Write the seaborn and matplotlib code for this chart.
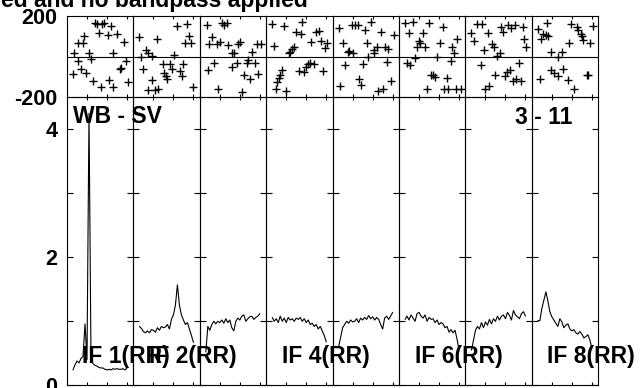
import matplotlib
matplotlib.use("Agg")
import matplotlib.pyplot as plt
import seaborn as sns

# ---------------- data ----------------
channels = list(range(6, 62, 2))  # 28 spectral channels per IF

amp_if1 = [0.24, 0.32, 0.38, 0.35, 0.42, 0.45, 0.96, 0.40, 4.25, 0.42, 0.34, 0.31, 0.30, 0.28,
           0.27, 0.27, 0.25, 0.24, 0.25, 0.24, 0.26, 0.25, 0.26, 0.25, 0.25, 0.26, 0.24, 0.27]
amp_if2 = [0.92, 0.89, 0.84, 0.82, 0.85, 0.82, 0.87, 0.86, 0.83, 0.90, 0.86, 0.92, 0.90, 0.91,
           0.95, 0.88, 1.03, 1.10, 1.25, 1.57, 1.25, 1.10, 1.02, 0.95, 0.98, 0.88, 0.78, 0.67]
amp_if3 = [0.52, 0.92, 0.86, 0.95, 1.00, 0.96, 1.00, 0.98, 1.02, 0.97, 1.04, 0.98, 1.02, 0.90,
           0.85, 1.00, 1.05, 1.02, 1.08, 1.10, 1.00, 1.04, 1.07, 1.08, 1.03, 1.06, 1.08, 1.12]
amp_if4 = [1.06, 1.00, 1.04, 0.98, 1.08, 1.00, 1.05, 0.98, 1.06, 1.02, 1.04, 1.00, 1.05, 1.03,
           1.06, 1.00, 1.04, 0.98, 1.02, 0.95, 0.97, 0.92, 0.95, 0.88, 0.92, 0.85, 0.78, 0.68]
amp_if5 = [0.60, 0.75, 0.90, 0.95, 1.00, 0.97, 1.02, 0.99, 1.00, 1.04, 0.98, 1.05, 1.02, 1.06,
           1.03, 1.09, 1.04, 1.07, 1.02, 1.06, 1.03, 0.95, 0.88, 1.05, 1.08, 1.03, 1.08, 1.14]
amp_if6 = [1.03, 1.08, 1.02, 1.10, 1.05, 1.00, 1.12, 1.14, 1.08, 1.05, 1.10, 1.00, 1.06, 1.03,
           1.04, 0.98, 1.02, 0.95, 0.98, 0.96, 0.90, 0.92, 0.83, 0.87, 0.82, 0.86, 0.72, 0.55]
amp_if7 = [0.55, 0.70, 0.86, 0.92, 0.88, 0.98, 0.90, 0.99, 0.94, 1.03, 0.96, 1.04, 1.00, 1.08,
           1.02, 1.08, 1.10, 1.04, 1.14, 1.09, 1.02, 1.17, 1.10, 1.07, 1.04, 1.12, 1.15, 1.08]
amp_if8 = [1.01, 1.01, 1.20, 1.33, 1.46, 1.32, 1.15, 1.07, 1.02, 0.97, 0.92, 1.04, 0.99, 0.90,
           0.94, 0.96, 0.88, 0.85, 0.87, 0.82, 0.80, 0.84, 0.80, 0.74, 0.76, 0.79, 0.71, 0.58]

phase_chan_if1 = [5.7, 7.0, 11.3, 11.3, 14.0, 16.3, 17.3, 19.3, 22.3, 23.7, 26.3, 28.0, 29.7, 32.3,
                  34.3, 35.3, 37.3, 40.7, 42.3, 43.7, 46.3, 46.3, 50.3, 53.0, 54.0, 57.3, 58.7, 60.7]
phase_if1 = [-86, 19, 65, -20, -61, 65, 100, -79, 16, -12, -118, 162, 158, 114,
             -151, 159, 166, 107, -115, 150, 19, -151, 110, -63, -58, 73, -20, -123]
phase_chan_if2 = [5.9, 7.6, 9.9, 12.6, 14.3, 14.9, 18.3, 18.6, 21.6, 23.9, 24.3, 29.3, 30.6, 32.6,
                  33.3, 36.6, 38.9, 40.6, 43.3, 46.6, 48.6, 49.9, 51.6, 53.3, 55.9, 57.6, 59.9]
phase_if2 = [97, -4, -61, 32, -164, 19, 2, -117, -164, 84, -161, -37, -79, -96,
             -110, -37, -63, 7, 151, -70, -96, -37, 65, 159, 102, 65, -148]
phase_chan_if3 = [6.7, 7.7, 9.0, 12.3, 14.3, 16.7, 17.7, 20.0, 22.3, 24.3, 26.7, 28.3, 31.7, 32.3,
                  34.3, 36.7, 38.3, 40.0, 42.3, 44.3, 46.7, 48.3, 50.0, 52.3, 55.0, 56.7, 58.3, 61.0]
phase_if3 = [154, -66, 60, 97, -30, 60, -161, 73, 166, 154, 166, 56, 16, -50,
             16, -30, 60, 73, -172, -91, -30, -17, -112, 24, -30, 60, -86, 60]
phase_chan_if4 = [5.8, 7.8, 10.2, 11.2, 12.5, 14.2, 15.8, 17.8, 20.2, 22.5, 24.2, 25.8, 27.8, 30.2,
                  32.5, 35.2, 36.2, 37.8, 40.2, 41.8, 43.5, 45.2, 47.8, 50.2, 52.5, 54.5, 56.8, 58.5, 60.8]
phase_if4 = [159, 52, -161, -123, -107, -91, -66, 150, -167, 16, 24, 35, 45, 122,
             -69, 110, 167, -74, -50, -37, -30, 73, -37, 122, 127, 78, -70, 40, 65]
phase_chan_if5 = [6.7, 7.7, 10.0, 12.3, 15.0, 16.7, 19.0, 20.0, 22.3, 25.0, 26.7, 28.3, 30.0, 32.3,
                  34.3, 35.7, 38.3, 41.0, 41.7, 44.3, 45.7, 48.3, 50.0, 52.3, 54.3, 55.7, 58.3, 61.0]
phase_if5 = [138, -145, 68, -42, 24, 25, 154, 19, 154, 154, -112, -140, -37, 130,
             68, -1, 171, 32, 19, 48, -167, 122, -161, 45, -25, 35, -118, 105]
phase_chan_if6 = [5.6, 8.3, 10.0, 11.0, 14.3, 15.6, 18.3, 20.0, 21.0, 24.3, 25.6, 27.6, 30.0, 31.7,
                  34.3, 35.6, 37.6, 41.0, 44.3, 45.0, 48.3, 49.0, 51.6, 53.3, 55.0, 56.6, 58.3, 61.5]
phase_if6 = [166, -30, 117, -42, 171, -9, 48, 78, 65, 114, 48, -158, 166, -91,
             -91, -99, -1, 68, 146, -158, -107, -158, -20, 45, 19, -158, 84, -158]
phase_chan_if7 = [6.0, 8.7, 12.0, 15.3, 16.7, 18.7, 20.0, 22.7, 23.3, 26.7, 28.7, 30.0, 32.0, 34.3,
                  36.0, 37.7, 39.3, 42.0, 42.7, 44.3, 46.0, 47.7, 49.3, 51.0, 53.3, 55.3, 57.7, 58.7, 61.0]
phase_if7 = [117, 78, 159, -42, 159, 32, -158, 117, -146, 61, 45, -91, 2, 19,
             143, 122, -96, -74, 154, -66, 138, -118, 154, -112, -30, -118, 143, 84, 45]
phase_chan_if8 = [5.7, 8.0, 9.0, 11.4, 13.7, 14.7, 15.7, 19.0, 19.0, 22.3, 26.3, 26.3, 29.7, 31.3,
                  35.7, 37.0, 39.0, 42.3, 44.7, 46.3, 49.0, 49.7, 51.3, 54.7, 55.7, 58.0, 61.3]
phase_if8 = [133, -112, 84, 110, 105, 166, 100, -66, 24, -83, -1, -96, 24, -63,
             -115, 68, 159, -158, 146, 130, 110, 100, 81, -91, -91, 68, 150]

amps = [amp_if1, amp_if2, amp_if3, amp_if4, amp_if5, amp_if6, amp_if7, amp_if8]
phase_chans = [phase_chan_if1, phase_chan_if2, phase_chan_if3, phase_chan_if4,
               phase_chan_if5, phase_chan_if6, phase_chan_if7, phase_chan_if8]
phases = [phase_if1, phase_if2, phase_if3, phase_if4, phase_if5, phase_if6, phase_if7, phase_if8]

title_text = "ed and no bandpass applied"
baseline_label = "WB - SV"
time_label = "3 - 11"
labeled_ifs = [1, 2, 4, 6, 8]
phase_tick_values = [-200, 200]
amp_tick_values = [0, 1, 2, 3, 4]
amp_tick_labels = ["0", "", "2", "", "4"]
chan_ticks = [20, 40, 60]

# ---------------- style ----------------
sns.set_theme(style="white")
plt.rcParams["font.family"] = ["Liberation Sans", "DejaVu Sans"]
plt.rcParams["font.weight"] = "bold"
plt.rcParams["axes.unicode_minus"] = False

W, H = 640.0, 388.0
fig = plt.figure(figsize=(6.4, 3.88), dpi=100)
fig.patch.set_facecolor("white")

left0 = 67.0
pw = 66.41
ph_top, ph_bot = 15.7, 97.3
am_top, am_bot = 97.3, 385.3
XMAX = pw  # channel axis span per panel

def style_spines(ax):
    for s in ax.spines.values():
        s.set_visible(True)
        s.set_color("black")
        s.set_linewidth(0.8)

for i in range(8):
    x0 = (left0 + i * pw) / W
    axp = fig.add_axes([x0, 1 - ph_bot / H, pw / W, (ph_bot - ph_top) / H])
    axa = fig.add_axes([x0, 1 - am_bot / H, pw / W, (am_bot - am_top) / H])
    for ax in (axp, axa):
        ax.set_facecolor("none")
        style_spines(ax)

    # phase panel
    axp.axhline(0, color="black", lw=0.8, zorder=1)
    sns.scatterplot(x=phase_chans[i], y=phases[i], ax=axp, marker="+", color="black",
                    s=40, linewidth=1.0, legend=False, zorder=3)
    axp.set_xlim(0, XMAX)
    axp.set_ylim(-200, 200)
    axp.set_xticks(chan_ticks)
    axp.tick_params(axis="x", which="both", top=True, bottom=True, direction="in",
                    length=2.4, width=0.8, color="black", labelbottom=False)
    axp.set_yticks(phase_tick_values)
    axp.tick_params(axis="y", length=0, pad=7, labelsize=15.5, labelcolor="black",
                    labelleft=(i == 0))
    axp.set_xlabel("")
    axp.set_ylabel("")

    # amplitude panel
    sns.lineplot(x=channels, y=amps[i], ax=axa, color="black", lw=0.8, legend=False)
    axa.set_xlim(0, XMAX)
    axa.set_ylim(0, 4.5)
    axa.set_xticks(chan_ticks)
    axa.tick_params(axis="x", which="both", top=True, bottom=True, direction="in",
                    length=2.4, width=0.8, color="black", labelbottom=False)
    axa.set_yticks(amp_tick_values)
    axa.set_yticklabels(amp_tick_labels)
    axa.tick_params(axis="y", left=True, right=True, direction="in", length=4.3, width=0.8,
                    color="black", pad=7, labelsize=15.5, labelcolor="black",
                    labelleft=(i == 0))
    axa.set_xlabel("")
    axa.set_ylabel("")

# ---------------- texts ----------------
fs = 16.5
fig.text(308 / W, 1 - 6.7 / H, title_text, ha="right", va="baseline",
         fontsize=16.5, fontweight="bold", color="black")
fig.text(73.3 / W, 1 - 123.3 / H, baseline_label, ha="left", va="baseline",
         fontsize=fs, fontweight="bold", color="black")
fig.text(572 / W, 1 - 123.5 / H, time_label, ha="right", va="baseline",
         fontsize=fs, fontweight="bold", color="black")
for k in labeled_ifs:
    fig.text((left0 + (k - 1) * pw + 15.5) / W, 1 - 363.3 / H, f"IF {k}(RR)",
             ha="left", va="baseline", fontsize=fs, fontweight="bold", color="black")

fig.savefig("out.png", dpi=100, facecolor="white")
